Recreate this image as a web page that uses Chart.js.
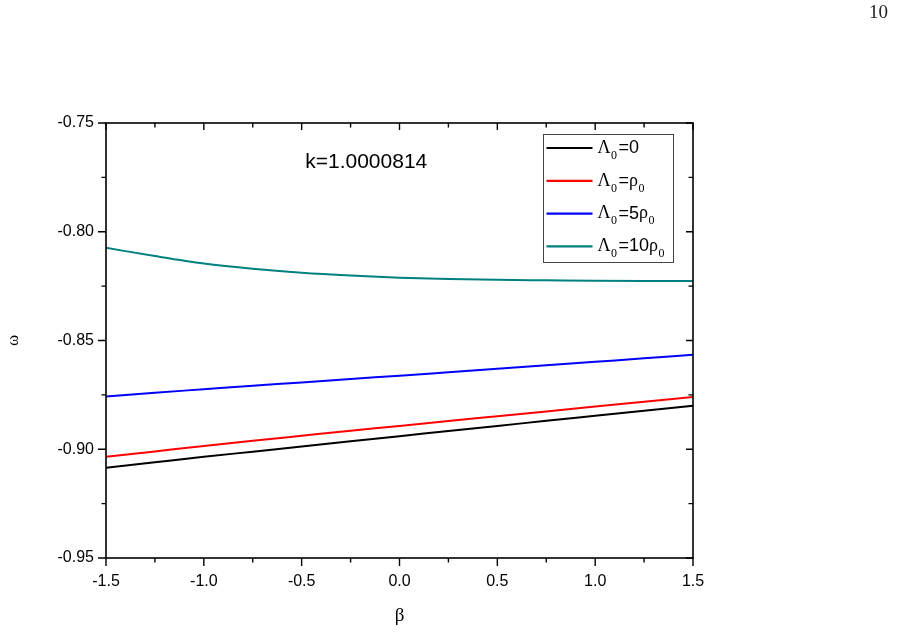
<!DOCTYPE html>
<html>
<head>
<meta charset="utf-8">
<script src="https://cdn.jsdelivr.net/npm/chart.js@4.4.1/dist/chart.umd.min.js"></script>
<style>
  body { margin: 0; background: #fff; }
  #wrap { position: relative; width: 897px; height: 632px; }
  #pageNo { position: absolute; left: 869px; top: 1px; font: 19px "Liberation Serif", serif; color: #222; }
</style>
</head>
<body>
<div id="wrap">
  <canvas id="canvas" width="897" height="632"></canvas>
  <div id="pageNo">10</div>
</div>
<script>
const betas = [-1.5, -1.25, -1.0, -0.75, -0.5, -0.25, 0, 0.25, 0.5, 0.75, 1.0, 1.25, 1.5]

const omegaL0 = [-0.9085, -0.9060, -0.9035, -0.9011, -0.8987, -0.8963, -0.8940, -0.8916, -0.8893, -0.8869, -0.8846, -0.8823, -0.8800]
const omegaL1 = [-0.9035, -0.9010, -0.8985, -0.8961, -0.8938, -0.8915, -0.8893, -0.8870, -0.8848, -0.8826, -0.8804, -0.8782, -0.8760]
const omegaL5 = [-0.8757, -0.8740, -0.8724, -0.8708, -0.8693, -0.8677, -0.8662, -0.8646, -0.8630, -0.8614, -0.8598, -0.8582, -0.8565]
const omegaL10 = [-0.8074, -0.8112, -0.8146, -0.8170, -0.8188, -0.8201, -0.8211, -0.8217, -0.8221, -0.8223, -0.8225, -0.8226, -0.8226]

// "_x" means subscript x
const seriesNames = ['Λ_0=0', 'Λ_0=ρ_0', 'Λ_0=5ρ_0', 'Λ_0=10ρ_0']
const seriesColors = ['#000000', '#ff0000', '#0000ff', '#008080']

const xTicks = [-1.5, -1.0, -0.5, 0.0, 0.5, 1.0, 1.5]
const yTicks = [-0.95, -0.90, -0.85, -0.80, -0.75]

const note = 'k=1.0000814'

const SANS = '"Liberation Sans", Arial, sans-serif'
const SERIF = '"Liberation Serif", "Times New Roman", serif'

function toPoints(vals) {
  return betas.map((b, i) => ({ x: b, y: vals[i] }))
}

const allSeries = [omegaL0, omegaL1, omegaL5, omegaL10]
const datasets = allSeries.map((vals, i) => ({
  label: seriesNames[i],
  data: toPoints(vals),
  borderColor: seriesColors[i],
  backgroundColor: seriesColors[i],
  borderWidth: 2,
  pointRadius: 0,
  cubicInterpolationMode: 'monotone',
  fill: false,
}))

function drawRich(ctx, text, x, y, size) {
  let i = 0
  while (i < text.length) {
    let ch = text[i]
    if (ch === '_') {
      ch = text[i + 1]
      ctx.font = Math.round(size * 0.66) + 'px ' + SERIF
      ctx.fillText(ch, x + 0.5, y + size * 0.42)
      x += ctx.measureText(ch).width + 2
      i += 2
      continue
    }
    const greek = /[\u0370-\u03ff]/.test(ch)
    ctx.font = size + 'px ' + (greek ? SERIF : SANS)
    ctx.fillText(ch, x, y)
    x += ctx.measureText(ch).width
    i++
  }
}

const framePlugin = {
  id: 'frame',
  afterDraw(chart) {
    const ctx = chart.ctx
    const a = chart.chartArea
    const xs = chart.scales.x
    const ys = chart.scales.y
    ctx.save()
    ctx.strokeStyle = '#000'
    ctx.lineWidth = 1.6
    ctx.strokeRect(a.left, a.top, a.right - a.left, a.bottom - a.top)

    ctx.lineWidth = 1.4
    ctx.beginPath()
    // x ticks: outward at bottom, inward at top
    xTicks.forEach((v, k) => {
      const px = xs.getPixelForValue(v)
      ctx.moveTo(px, a.bottom); ctx.lineTo(px, a.bottom + 8)
      ctx.moveTo(px, a.top); ctx.lineTo(px, a.top + 7)
      if (k < xTicks.length - 1) {
        const mx = xs.getPixelForValue((v + xTicks[k + 1]) / 2)
        ctx.moveTo(mx, a.bottom); ctx.lineTo(mx, a.bottom + 4.5)
        ctx.moveTo(mx, a.top); ctx.lineTo(mx, a.top + 4.5)
      }
    })
    // y ticks: outward at left, inward at right
    yTicks.forEach((v, k) => {
      const py = ys.getPixelForValue(v)
      ctx.moveTo(a.left, py); ctx.lineTo(a.left - 8, py)
      ctx.moveTo(a.right, py); ctx.lineTo(a.right - 7, py)
      if (k < yTicks.length - 1) {
        const my = ys.getPixelForValue((v + yTicks[k + 1]) / 2)
        ctx.moveTo(a.left, my); ctx.lineTo(a.left - 4.5, my)
        ctx.moveTo(a.right, my); ctx.lineTo(a.right - 4.5, my)
      }
    })
    ctx.stroke()

    // note text
    ctx.fillStyle = '#000'
    ctx.font = '21px ' + SANS
    ctx.textAlign = 'center'
    ctx.textBaseline = 'middle'
    ctx.fillText(note, xs.getPixelForValue(-0.17), ys.getPixelForValue(-0.7680))

    // legend box
    const bx = 543.5, by = 134.5, bw = 130, bh = 128
    ctx.strokeStyle = '#444'
    ctx.lineWidth = 1
    ctx.strokeRect(bx, by, bw, bh)
    ctx.textAlign = 'left'
    chart.data.datasets.forEach((ds, i) => {
      const cy = by + 13.5 + i * 32.8
      ctx.strokeStyle = ds.borderColor
      ctx.lineWidth = 2.2
      ctx.beginPath()
      ctx.moveTo(bx + 3, cy); ctx.lineTo(bx + 49, cy)
      ctx.stroke()
      ctx.fillStyle = '#000'
      drawRich(ctx, ds.label, bx + 54, cy, 18)
    })
    ctx.restore()
  }
}

const config = {
  type: 'line',
  data: { datasets: datasets },
  options: {
    responsive: false,
    animation: false,
    layout: { padding: { left: 0, top: 123, right: 204, bottom: 0 } },
    plugins: { legend: { display: false }, tooltip: { enabled: false } },
    scales: {
      x: {
        type: 'linear',
        min: -1.5,
        max: 1.5,
        afterFit(s) { s.height = 74 },
        afterBuildTicks(s) { s.ticks = xTicks.map(v => ({ value: v })) },
        grid: { display: false, drawTicks: false },
        border: { display: false },
        ticks: {
          padding: 14,
          color: '#000',
          font: { family: SANS, size: 16 },
          callback: v => v.toFixed(1),
        },
        title: {
          display: true,
          text: 'β',
          color: '#000',
          font: { family: SERIF, size: 19 },
          padding: { top: 0, bottom: 5 },
        },
      },
      y: {
        type: 'linear',
        min: -0.95,
        max: -0.75,
        afterFit(s) { s.width = 106 },
        afterBuildTicks(s) { s.ticks = yTicks.map(v => ({ value: v })) },
        grid: { display: false, drawTicks: false },
        border: { display: false },
        ticks: {
          padding: 12,
          color: '#000',
          font: { family: SANS, size: 16 },
          callback: v => v.toFixed(2),
        },
        title: {
          display: true,
          text: 'ω',
          color: '#000',
          font: { family: SERIF, size: 17 },
          padding: { top: 3, bottom: 0 },
        },
      },
    },
  },
  plugins: [framePlugin],
}

const canvas = document.getElementById('canvas')
const chart = new Chart(canvas, config)
</script>
</body>
</html>
